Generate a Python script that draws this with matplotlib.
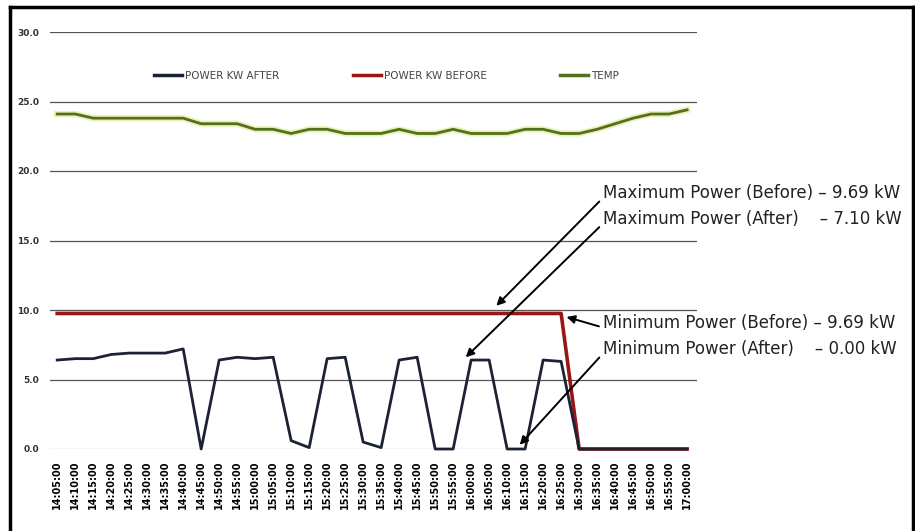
import numpy as np
import matplotlib.pyplot as plt
from matplotlib.lines import Line2D

# time labels (5 min steps)
times = ['14:05:00', '14:10:00', '14:15:00', '14:20:00', '14:25:00', '14:30:00',
         '14:35:00', '14:40:00', '14:45:00', '14:50:00', '14:55:00', '15:00:00',
         '15:05:00', '15:10:00', '15:15:00', '15:20:00', '15:25:00', '15:30:00',
         '15:35:00', '15:40:00', '15:45:00', '15:50:00', '15:55:00', '16:00:00',
         '16:05:00', '16:10:00', '16:15:00', '16:20:00', '16:25:00', '16:30:00',
         '16:35:00', '16:40:00', '16:45:00', '16:50:00', '16:55:00', '17:00:00']

power_after = [6.4, 6.5, 6.5, 6.8, 6.9, 6.9, 6.9, 7.2, 0.0, 6.4, 6.6, 6.5,
               6.6, 0.6, 0.1, 6.5, 6.6, 0.5, 0.1, 6.4, 6.6, 0.0, 0.0, 6.4,
               6.4, 0.0, 0.0, 6.4, 6.3, 0.0, 0.0, 0.0, 0.0, 0.0, 0.0, 0.0]

power_before = [9.75] * 29 + [0.0] * 7

temp = [24.1, 24.1, 23.8, 23.8, 23.8, 23.8, 23.8, 23.8, 23.4, 23.4, 23.4, 23.0,
        23.0, 22.7, 23.0, 23.0, 22.7, 22.7, 22.7, 23.0, 22.7, 22.7, 23.0, 22.7,
        22.7, 22.7, 23.0, 23.0, 22.7, 22.7, 23.0, 23.4, 23.8, 24.1, 24.1, 24.4]

yticks = [0, 5, 10, 15, 20, 25, 30]

notes = ['Maximum Power (Before) \u2013 9.69 kW',
         'Maximum Power (After)    \u2013 7.10 kW',
         'Minimum Power (Before) \u2013 9.69 kW',
         'Minimum Power (After)    \u2013 0.00 kW']

x = np.arange(len(times))

fig = plt.figure(figsize=(9.15, 5.31), dpi=100)
ax = fig.add_axes([50 / 915, 82 / 531, 647 / 915, 417 / 531])

# gridlines
for v in yticks:
    ax.axhline(v, color='#555555' if v else '#bbbbbb', lw=0.9, zorder=1)

ax.plot(x, power_before, color='#9a1515', lw=2.6, zorder=3, clip_on=False,
        label='POWER KW BEFORE')
ax.plot(x, power_after, color='#1c2236', lw=2.0, zorder=4, clip_on=False,
        label='POWER KW AFTER')
ax.plot(x, temp, color='#e2ec9a', lw=4.5, zorder=2, alpha=0.7)
ax.plot(x, temp, color='#55701c', lw=2.0, zorder=3, label='TEMP')

ax.set_xlim(-0.4, 35.55)
ax.set_ylim(0, 30)
ax.set_xticks(x)
ax.set_xticklabels(times, rotation=90, fontsize=7, fontweight='bold')
ax.set_yticks(yticks)
ax.set_yticklabels(['%.1f' % v for v in yticks], fontsize=6.5, fontweight='bold',
                   color='#333333')
ax.tick_params(length=0, pad=8)
for s in ax.spines.values():
    s.set_visible(False)

handles = [Line2D([], [], color='#1c2236', lw=2.5),
           Line2D([], [], color='#9a1515', lw=2.5),
           Line2D([], [], color='#55701c', lw=2.5)]
ax.legend(handles, ['POWER KW AFTER', 'POWER KW BEFORE', 'TEMP'],
          loc='center', bbox_to_anchor=(0.52, 0.895), ncol=3, frameon=False,
          fontsize=7.5, handlelength=2.7, handletextpad=0.3, columnspacing=7.0,
          labelcolor='#444444')

# annotations
text_pos = [(30.33, 18.4), (30.33, 16.55), (30.33, 9.06), (30.33, 7.2)]
targets = [(24.4, 10.3), (22.7, 6.6), (28.3, 9.5), (25.7, 0.3)]
for t, tp, tg in zip(notes, text_pos, targets):
    ax.annotate(t, xy=tg, xytext=tp, fontsize=12, va='center', ha='left',
                color='#222222', annotation_clip=False, zorder=6,
                arrowprops=dict(arrowstyle='-|>', color='black', lw=1.4,
                                mutation_scale=12, relpos=(0, 0.25),
                                shrinkA=1, shrinkB=0))

# frame around the picture
fig.add_artist(Line2D([10 / 915, 10 / 915], [0, 1 - 7 / 531], color='black', lw=2.5))
fig.add_artist(Line2D([10 / 915, 913 / 915], [1 - 7 / 531, 1 - 7 / 531], color='black', lw=2.5))
fig.add_artist(Line2D([913 / 915, 913 / 915], [0, 1 - 7 / 531], color='black', lw=2.5))

plt.savefig('out.png', dpi=100)
